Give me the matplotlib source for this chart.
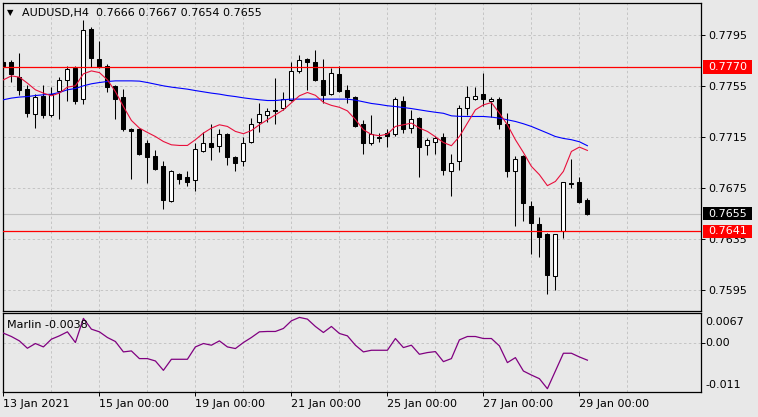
import matplotlib
matplotlib.use("Agg")
import matplotlib.pyplot as plt
import matplotlib.transforms as mtransforms
from matplotlib.patches import Rectangle
import numpy as np

# ---------------- data ----------------
symbol_title = "AUDUSD,H4  0.7666 0.7667 0.7654 0.7655"
date_labels = ["13 Jan 2021", "15 Jan 00:00", "19 Jan 00:00", "21 Jan 00:00",
               "25 Jan 00:00", "27 Jan 00:00", "29 Jan 00:00"]
date_label_bars = [0, 12, 24, 36, 48, 60, 72]

open_ = [0.7774, 0.7774, 0.7762, 0.7753, 0.7733, 0.7747, 0.7732, 0.7751, 0.7760, 0.7769,
         0.7745, 0.7800, 0.7776, 0.7771, 0.7755, 0.7746, 0.7721, 0.7721, 0.7710, 0.7700,
         0.7692, 0.7665, 0.7686, 0.7684, 0.7681, 0.7704, 0.7710, 0.7708, 0.7717, 0.7699,
         0.7696, 0.7711, 0.7727, 0.7732, 0.7736, 0.7738, 0.7744, 0.7767, 0.7776, 0.7774,
         0.7760, 0.7749, 0.7764, 0.7752, 0.7746, 0.7725, 0.7710, 0.7715, 0.7718, 0.7717,
         0.7743, 0.7722, 0.7730, 0.7709, 0.7711, 0.7715, 0.7688, 0.7696, 0.7738, 0.7745,
         0.7749, 0.7743, 0.7745, 0.7725, 0.7688, 0.7700, 0.7661, 0.7647, 0.7639, 0.7606,
         0.7641, 0.7679, 0.7680, 0.7666]
high = [0.7782, 0.7775, 0.7781, 0.7756, 0.7749, 0.7756, 0.7754, 0.7762, 0.7771, 0.7771,
        0.7807, 0.7801, 0.7790, 0.7772, 0.7756, 0.7753, 0.7722, 0.7722, 0.7713, 0.7705,
        0.7696, 0.7689, 0.7687, 0.7688, 0.7710, 0.7719, 0.7725, 0.7721, 0.7718, 0.7700,
        0.7715, 0.7730, 0.7742, 0.7738, 0.7761, 0.7750, 0.7774, 0.7779, 0.7777, 0.7783,
        0.7776, 0.7769, 0.7771, 0.7756, 0.7747, 0.7728, 0.7732, 0.7718, 0.7721, 0.7746,
        0.7747, 0.7736, 0.7731, 0.7714, 0.7716, 0.7718, 0.7702, 0.7740, 0.7755, 0.7754,
        0.7765, 0.7746, 0.7746, 0.7734, 0.7700, 0.7701, 0.7665, 0.7652, 0.7640, 0.7639,
        0.7680, 0.7698, 0.7684, 0.7667]
low = [0.7757, 0.7758, 0.7748, 0.7731, 0.7722, 0.7730, 0.7731, 0.7729, 0.7743, 0.7741,
       0.7741, 0.7770, 0.7769, 0.7750, 0.7729, 0.7720, 0.7682, 0.7701, 0.7679, 0.7689,
       0.7659, 0.7664, 0.7678, 0.7677, 0.7673, 0.7703, 0.7697, 0.7703, 0.7693, 0.7688,
       0.7692, 0.7710, 0.7719, 0.7727, 0.7725, 0.7736, 0.7743, 0.7765, 0.7752, 0.7759,
       0.7742, 0.7748, 0.7750, 0.7742, 0.7723, 0.7702, 0.7709, 0.7711, 0.7707, 0.7716,
       0.7718, 0.7718, 0.7684, 0.7701, 0.7702, 0.7685, 0.7669, 0.7689, 0.7732, 0.7744,
       0.7739, 0.7731, 0.7721, 0.7684, 0.7645, 0.7649, 0.7623, 0.7621, 0.7592, 0.7595,
       0.7636, 0.7675, 0.7663, 0.7654]
close = [0.7771, 0.7764, 0.7752, 0.7734, 0.7746, 0.7732, 0.7749, 0.7760, 0.7768, 0.7743,
         0.7799, 0.7777, 0.7770, 0.7754, 0.7745, 0.7721, 0.7720, 0.7702, 0.7699, 0.7690,
         0.7666, 0.7688, 0.7682, 0.7680, 0.7706, 0.7710, 0.7707, 0.7717, 0.7699, 0.7695,
         0.7710, 0.7725, 0.7733, 0.7735, 0.7735, 0.7745, 0.7767, 0.7775, 0.7774, 0.7760,
         0.7748, 0.7765, 0.7751, 0.7746, 0.7724, 0.7710, 0.7717, 0.7714, 0.7716, 0.7745,
         0.7721, 0.7729, 0.7707, 0.7713, 0.7714, 0.7689, 0.7695, 0.7738, 0.7746, 0.7747,
         0.7745, 0.7745, 0.7725, 0.7688, 0.7698, 0.7663, 0.7648, 0.7637, 0.7607, 0.7639,
         0.7680, 0.7678, 0.7664, 0.7655]

ma_fast = [0.77598, 0.77629, 0.77619, 0.77572, 0.77520, 0.77494, 0.77473, 0.77494, 0.77541, 0.77551,
           0.77645, 0.77668, 0.77655, 0.77598, 0.77506, 0.77389, 0.77280, 0.77220, 0.77186, 0.77154,
           0.77115, 0.77089, 0.77084, 0.77084, 0.77129, 0.77181, 0.77220, 0.77246, 0.77233, 0.77194,
           0.77176, 0.77201, 0.77246, 0.77285, 0.77324, 0.77363, 0.77418, 0.77473, 0.77499, 0.77477,
           0.77422, 0.77398, 0.77383, 0.77355, 0.77287, 0.77207, 0.77170, 0.77160, 0.77173, 0.77233,
           0.77246, 0.77259, 0.77220, 0.77194, 0.77152, 0.77107, 0.77082, 0.77154, 0.77259, 0.77363,
           0.77402, 0.77420, 0.77337, 0.77246, 0.77129, 0.77029, 0.76920, 0.76855, 0.76769, 0.76802,
           0.76881, 0.77037, 0.77071, 0.77045]
ma_slow = [0.77442, 0.77455, 0.77463, 0.77467, 0.77475, 0.77481, 0.77486, 0.77499, 0.77520, 0.77530,
           0.77551, 0.77567, 0.77577, 0.77585, 0.77590, 0.77590, 0.77590, 0.77588, 0.77577, 0.77564,
           0.77551, 0.77541, 0.77533, 0.77525, 0.77514, 0.77504, 0.77494, 0.77486, 0.77475, 0.77467,
           0.77457, 0.77449, 0.77442, 0.77436, 0.77436, 0.77442, 0.77447, 0.77447, 0.77447, 0.77447,
           0.77447, 0.77447, 0.77447, 0.77447, 0.77439, 0.77426, 0.77413, 0.77405, 0.77395, 0.77389,
           0.77381, 0.77373, 0.77363, 0.77353, 0.77344, 0.77336, 0.77316, 0.77312, 0.77311, 0.77311,
           0.77311, 0.77306, 0.77298, 0.77285, 0.77272, 0.77254, 0.77233, 0.77207, 0.77181, 0.77154,
           0.77139, 0.77129, 0.77113, 0.77082]
marlin = [0.00225, 0.00150, 0.00052, -0.00113, -0.00007, -0.00083, 0.00090, 0.00165, 0.00255, 0.00015,
          0.00556, 0.00315, 0.00255, 0.00128, 0.00038, -0.00195, -0.00173, -0.00345, -0.00345, -0.00398,
          -0.00608, -0.00360, -0.00360, -0.00360, -0.00083, -0.00007, -0.00045, 0.00052, -0.00083, -0.00120,
          0.00015, 0.00128, 0.00255, 0.00263, 0.00263, 0.00330, 0.00502, 0.00578, 0.00540, 0.00375,
          0.00240, 0.00375, 0.00218, 0.00165, -0.00045, -0.00195, -0.00158, -0.00158, -0.00158, 0.00105,
          -0.00098, -0.00045, -0.00248, -0.00210, -0.00188, -0.00413, -0.00345, 0.00075, 0.00150, 0.00150,
          0.00105, 0.00105, -0.00060, -0.00435, -0.00323, -0.00623, -0.00713, -0.00795, -0.01020, -0.00623,
          -0.00225, -0.00225, -0.00308, -0.00380]

price_ticks = [0.7795, 0.7755, 0.7715, 0.7675, 0.7635, 0.7595]
level_lines = [0.7770, 0.7641]
bid_price = 0.7655
marlin_labels = [0.0067, 0.0, -0.011]
marlin_label_text = ["0.0067", "0.00", "-0.011"]
marlin_last = -0.0038

# ---------------- style ----------------
BG = "#e8e8e8"
GRID = "#c4c4c4"
W, H = 758, 417
plt.rcParams['font.family'] = ['DejaVu Sans']
FS = 8

fig = plt.figure(figsize=(W / 100, H / 100), dpi=100, facecolor=BG)


def px_axes(l, t, r, b):
    return fig.add_axes([l / W, 1 - b / H, (r - l) / W, (b - t) / H])


ax = px_axes(3, 3, 701, 310.5)
ax2 = px_axes(3, 313.3, 701, 392.3)

for a in (ax, ax2):
    a.set_facecolor(BG)
    for s in a.spines.values():
        s.set_color("black")
        s.set_linewidth(0.9)
    a.set_xlim(-0.05, 87.2)
    a.set_xticks(date_label_bars)
    a.set_xticks(np.arange(6, 88, 12), minor=True)
    a.grid(True, which="both", axis="x", color=GRID, linestyle=(0, (2.5, 2.5)), linewidth=0.7)
    a.tick_params(axis="x", which="minor", length=0)
    a.set_axisbelow(True)

n = len(open_)
x = np.arange(n)
o = np.array(open_); c = np.array(close); h = np.array(high); l = np.array(low)

# ---- main chart ----
ax.set_ylim(0.75791, 0.78200)
ax.set_yticks(price_ticks)
ax.set_yticklabels([f"{p:.4f}" for p in price_ticks])
ax.yaxis.tick_right()
ax.tick_params(axis="y", right=True, left=False, length=3, width=0.7, pad=2.4,
               labelsize=FS, direction="out", colors="black")
ax.tick_params(axis="x", which="major", length=0, labelbottom=False)
ax.grid(True, axis="y", color=GRID, linestyle=(0, (2.5, 2.5)), linewidth=0.7)

ax.axhline(bid_price, color="#c0c0c0", lw=0.8, zorder=1.5)

ax.vlines(x, l, h, color="black", lw=0.75, zorder=2)
bull = c >= o
body_bot = np.minimum(o, c)
body_h = np.maximum(np.abs(c - o), 0.000005)
ax.bar(x, body_h, bottom=body_bot, width=0.5,
       color=np.where(bull, "white", "black"), edgecolor="black", linewidth=0.75, zorder=3)

ax.plot(x, ma_slow, color="#0000ff", lw=0.8, zorder=4)
ax.plot(x, ma_fast, color="#e8103c", lw=0.8, zorder=4)
for lv in level_lines:
    ax.axhline(lv, color="#ff0000", lw=0.9, zorder=5)

# price label boxes on right axis
trans = mtransforms.blended_transform_factory(fig.transFigure, ax.transData)
box_h = 13.4 / 12783.0
for val, fc in [(level_lines[0], "#ff0000"), (bid_price, "#000000"), (level_lines[1], "#ff0000")]:
    ax.add_patch(Rectangle((703.3 / W, val - box_h / 2), 48.4 / W, box_h, transform=trans,
                           facecolor=fc, edgecolor="none", clip_on=False, zorder=6))
    ax.text(708.5 / W, val, f"{val:.4f}", transform=trans, color="white", fontsize=FS,
            va="center", ha="left", zorder=7, clip_on=False)

# ---- indicator ----
ax2.set_ylim(-0.011, 0.0067)
ax2.set_yticks([0.0])
ax2.yaxis.tick_right()
ax2.tick_params(axis="y", right=True, left=False, length=3, width=0.7, labelright=False,
                direction="out")
ax2.grid(True, axis="y", color=GRID, linestyle=(0, (2.5, 2.5)), linewidth=0.7)
ax2.plot(x, marlin, color="#800080", lw=0.9, zorder=4)
ax2.set_xticklabels(date_labels)
ax2.tick_params(axis="x", which="major", length=3, width=0.7, pad=1.5, labelsize=FS,
                direction="out")
for t in ax2.get_xticklabels():
    t.set_ha("left")

ytr = ax2.get_yaxis_transform()
offsets = [-6.2, 0.0, 5.0]
for v, txt, dy in zip(marlin_labels, marlin_label_text, offsets):
    ax2.annotate(txt, xy=(1, v), xycoords=ytr, xytext=(3.4, dy), textcoords="offset points",
                 va="center", ha="left", fontsize=FS, annotation_clip=False)

fig.text(7 / W, 1 - 325 / H, f"Marlin {marlin_last:.4f}", fontsize=FS, va="center", ha="left")

# header
fig.text(6.5 / W, 1 - 12.5 / H, "\u25bc", fontsize=6, va="center", ha="left")
fig.text(21.5 / W, 1 - 12.7 / H, symbol_title, fontsize=FS, va="center", ha="left")

fig.savefig("out.png", dpi=100, facecolor=BG)
